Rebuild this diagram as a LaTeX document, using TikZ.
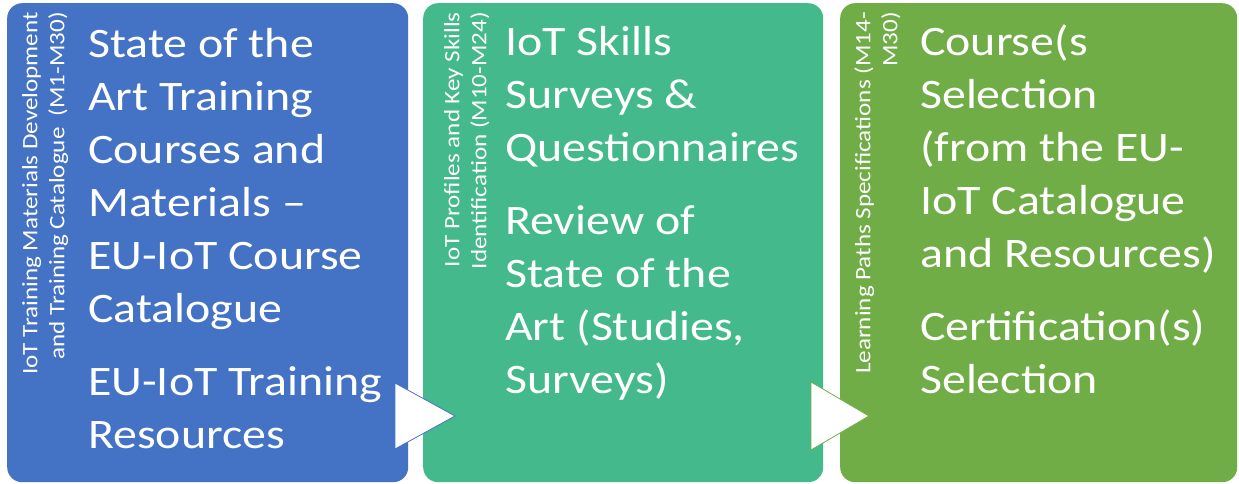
\documentclass[tikz,border=0pt]{standalone}
\usepackage{fontspec}
\setmainfont[FakeStretch=1.14]{Carlito}
\definecolor{stageblue}{HTML}{4472C4}
\definecolor{stageteal}{HTML}{44B98B}
\definecolor{stagegreen}{HTML}{70AD47}
\begin{document}
\begin{tikzpicture}[x=1pt,y=-1pt,
  stage/.style={rectangle, rounded corners=15pt, minimum width=#1,
    minimum height=479pt, anchor=north west, inner sep=0pt, draw=none},
  phase/.style={rotate=90, anchor=north east, align=right, inner sep=0pt,
    text=white, font=\fontsize{22}{27}\selectfont},
  body/.style={anchor=base west, align=left, inner sep=0pt, text=white,
    font=\fontsize{42}{53}\selectfont},
  chevron/.style={fill=white, line width=0.8pt, line join=miter}
]
\useasboundingbox (0,0) rectangle (1239,484);

% three phase panels
\node[stage=401pt, fill=stageblue]  (s1) at (7,3)   {};
\node[stage=400pt, fill=stageteal]  (s2) at (423,3) {};
\node[stage=397pt, fill=stagegreen] (s3) at (840,3) {};

% rotated phase titles
\node[phase] (p1) at (22,12)  {IoT Training Materials Development\\and Training Catalogue\ \ (M1-M30)};
\node[phase] (p2) at (444,12) {IoT Profiles and Key Skills\\Identification (M10-M24)};
\node[phase] (p3) at (854,12) {Learning Paths Specifications (M14-\\M30)};

% phase contents (anchored on the baseline of the last line)
\node[body] (t1) at (88,448) {State of the\\Art Training\\Courses and\\Materials –\\EU-IoT Course\\Catalogue\\[20pt]EU-IoT Training\\Resources};
\node[body] (t2) at (505,393) {IoT Skills\\Surveys \&\\Questionnaires\\[20pt]Review of\\State of the\\Art (Studies,\\Surveys)};
\node[body] (t3) at (920,393) {Course(s\\Selection\\(from the EU-\\IoT Catalogue\\and Resources)\\[20pt]Certification(s)\\Selection};

% arrow heads between the panels
\filldraw[chevron, draw=stageblue]  (395,383) -- (395,449) -- (455,416) -- cycle;
\filldraw[chevron, draw=stagegreen] (811,382) -- (811,450) -- (869,416) -- cycle;
\end{tikzpicture}
\end{document}
